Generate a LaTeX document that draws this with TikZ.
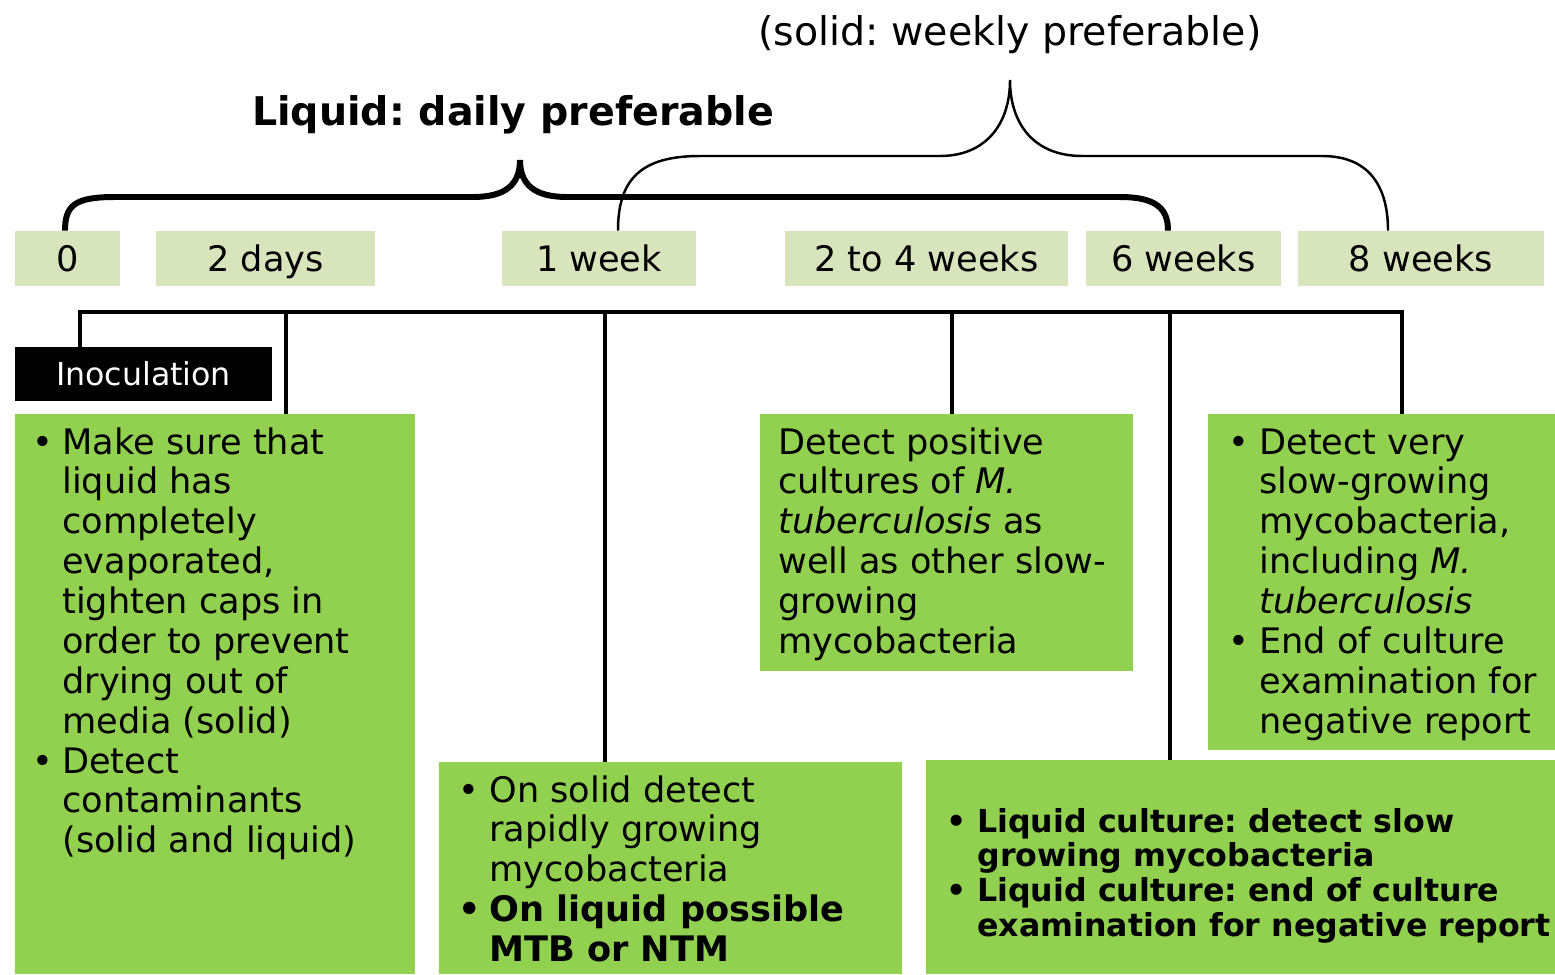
\documentclass[tikz,border=0pt]{standalone}
\usepackage{fontspec}
\setmainfont{DejaVu Sans}
\usetikzlibrary{fit}
\definecolor{palegreen}{HTML}{D8E4BC}
\definecolor{leafgreen}{HTML}{92D050}
\newcommand{\bodyfont}{\fontsize{20}{22.7}\selectfont}
\newcommand{\boldfont}{\fontsize{18}{19.85}\selectfont\bfseries}
\newcommand{\headfont}{\fontsize{22.5}{27}\selectfont}
\frenchspacing

\begin{document}
\begin{tikzpicture}[x=0.02cm, y=-0.02cm,
  timebox/.style={fill=palegreen, inner sep=0pt, minimum height=1.1cm, font=\bodyfont,
    text height=14.6pt, text depth=0pt},
  infobox/.style={fill=leafgreen, inner sep=0pt},
  infotext/.style={anchor=base west, inner sep=0pt, font=\bodyfont},
  link/.style={line width=2.2pt},
  bigbrace/.style={line width=3.4pt},
  smallbrace/.style={line width=1.4pt}]
\useasboundingbox (0,0) rectangle (1555,974);

\node[timebox, minimum width=2.1cm] (t0) at (67.5,258.5) {0};
\node[timebox, minimum width=4.38cm] (t2d) at (265.5,258.5) {2 days};
\node[timebox, minimum width=3.88cm] (t1w) at (599,258.5) {1 week};
\node[timebox, minimum width=5.66cm] (t24w) at (926.5,258.5) {2 to 4 weeks};
\node[timebox, minimum width=3.9cm] (t6w) at (1183.5,258.5) {6 weeks};
\node[timebox, minimum width=4.92cm] (t8w) at (1421,258.5) {8 weeks};

\draw[bigbrace] (65,0 |- t0.north) .. controls (65,205) and (75,197) .. (115,197) -- (473,197)
  .. controls (505,197) and (520,185) .. (520,160) .. controls (520,185) and (535,197) .. (567,197)
  -- (1120,197) .. controls (1158,197) and (1168,210) .. (1168,0 |- t6w.north);
\draw[smallbrace] (618,0 |- t1w.north) .. controls (618,180) and (640,156) .. (700,156) -- (940,156)
  .. controls (985,156) and (1010,125) .. (1010,80) .. controls (1010,125) and (1035,156) .. (1082,156)
  -- (1322,156) .. controls (1372,156) and (1388,190) .. (1388,0 |- t8w.north);
\node[anchor=base, font=\headfont\bfseries] (liquid) at (513,125) {Liquid: daily preferable};
\node[anchor=base, font=\headfont] (solid) at (1010,45) {(solid: weekly preferable)};

\node[fill=black, text=white, inner sep=0pt, minimum width=5.14cm, minimum height=1.08cm,
  font=\fontsize{18}{20}\selectfont, text height=13pt, text depth=0pt] (inoc) at (143.5,374) {Inoculation};
\node[infobox, fit={(15,414) (415,974)}] (b2d) {};
\node[infobox, fit={(439,762) (902,974)}] (b1w) {};
\node[infobox, fit={(760,414) (1133,671)}] (b24w) {};
\node[infobox, fit={(926,760) (1555,974)}] (b6w) {};
\node[infobox, fit={(1208,414) (1555,750)}] (b8w) {};

\node[infotext] (n2d) at (32,454) {\begin{tabular}[t]{@{}p{0.6cm}@{}l@{}}
\textbullet & Make sure that\\
 & liquid has\\
 & completely\\
 & evaporated,\\
 & tighten caps in\\
 & order to prevent\\
 & drying out of\\
 & media (solid)\\
\textbullet & Detect\\
 & contaminants\\
 & (solid and liquid)
\end{tabular}};
\node[infotext] (n1w) at (458,802) {\begin{tabular}[t]{@{}p{0.62cm}@{}l@{}}
\textbullet & On solid detect\\
 & rapidly growing\\
 & mycobacteria\\
\textbf{\textbullet} & \textbf{On liquid possible}\\
 & \textbf{MTB or NTM}
\end{tabular}};
\node[infotext] (n24w) at (778,454) {\begin{tabular}[t]{@{}l@{}}
Detect positive\\
cultures of \textit{M.}\\
\textit{tuberculosis} as\\
well as other slow-\\
growing\\
mycobacteria
\end{tabular}};
\node[infotext, font=\boldfont] (n6w) at (946,832) {\begin{tabular}[t]{@{}p{0.62cm}@{}l@{}}
\textbullet & Liquid culture: detect slow\\
 & growing mycobacteria\\
\textbullet & Liquid culture: end of culture\\
 & examination for negative report
\end{tabular}};
\node[infotext] (n8w) at (1228,454) {\begin{tabular}[t]{@{}p{0.62cm}@{}l@{}}
\textbullet & Detect very\\
 & slow-growing\\
 & mycobacteria,\\
 & including \textit{M.}\\
 & \textit{tuberculosis}\\
\textbullet & End of culture\\
 & examination for\\
 & negative report
\end{tabular}};

\coordinate (bus) at (0,312);
\draw[link] (80,0 |- inoc.north) -- (80,0 |- bus) -- (1402,0 |- bus) -- (1402,0 |- b8w.north);
\draw[link] (286,0 |- bus) -- (286,0 |- b2d.north);
\draw[link] (605,0 |- bus) -- (605,0 |- b1w.north);
\draw[link] (952,0 |- bus) -- (952,0 |- b24w.north);
\draw[link] (1170,0 |- bus) -- (1170,0 |- b6w.north);
\end{tikzpicture}
\end{document}
